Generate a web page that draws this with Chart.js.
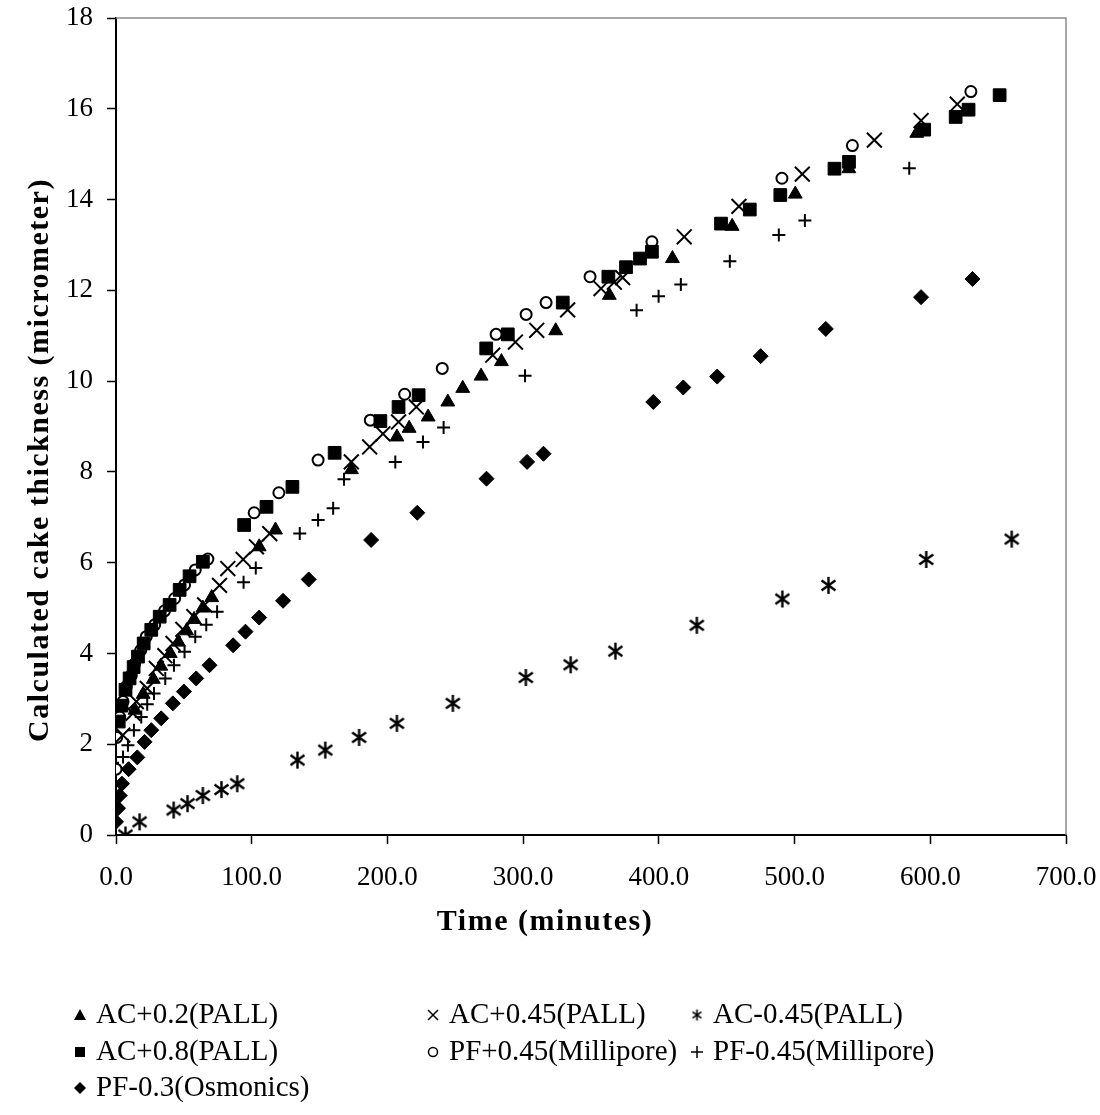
<!DOCTYPE html>
<html>
<head>
<meta charset="UTF-8">
<title>Calculated cake thickness</title>
<script src="https://cdn.jsdelivr.net/npm/chart.js"></script>
<style>
    body { margin: 0; background: #fff; }
    #wrap { position: relative; width: 1100px; height: 1115px; }
</style>
</head>
<body>
<div id="wrap"><canvas id="chart"></canvas></div>
<script>
    // data: time (minutes) and cake thickness (micrometer)
    const labels = ['AC+0.2(PALL)', 'AC+0.45(PALL)', 'AC-0.45(PALL)', 'AC+0.8(PALL)',
                    'PF+0.45(Millipore)', 'PF-0.45(Millipore)', 'PF-0.3(Osmonics)'];
    const xTitle = 'Time (minutes)';
    const yTitle = 'Calculated cake thickness (micrometer)';

    const ac02_t = [14, 20, 27.5, 33, 40, 46, 52, 57.5, 64, 70.5, 105.5, 117.5, 173.5, 207, 216, 230, 244.5, 255.5, 269, 284, 324, 363.5, 410, 454, 500.5, 540, 590];
    const ac02_y = [2.75, 3.1, 3.43, 3.72, 4.0, 4.25, 4.5, 4.75, 5.0, 5.23, 6.35, 6.72, 8.05, 8.77, 8.96, 9.21, 9.54, 9.84, 10.11, 10.43, 11.11, 11.89, 12.7, 13.41, 14.12, 14.68, 15.46];

    const ac045_t = [5, 12.5, 15, 23, 29.7, 36, 42, 49.3, 57.4, 65.3, 76.3, 82.4, 93.7, 103.5, 113.3, 173.4, 186.9, 196.7, 208.2, 221.3, 277.6, 294.3, 310, 332.8, 357.4, 367.2, 373.3, 418.7, 459, 505.7, 558.8, 593.2, 619.9];
    const ac045_y = [2.2, 2.68, 2.94, 3.23, 3.67, 3.95, 4.22, 4.53, 4.81, 5.07, 5.5, 5.87, 6.07, 6.35, 6.64, 8.22, 8.55, 8.84, 9.10, 9.43, 10.57, 10.86, 11.12, 11.57, 12.04, 12.18, 12.28, 13.18, 13.85, 14.56, 15.31, 15.74, 16.10];

    const acm045_t = [7, 17.4, 42.5, 52.7, 64, 77.7, 89.3, 133.7, 154.2, 179.1, 207, 248.2, 302, 335, 368, 428, 491, 525, 597, 660];
    const acm045_y = [0.0, 0.29, 0.55, 0.69, 0.87, 1.0, 1.13, 1.65, 1.87, 2.15, 2.46, 2.90, 3.47, 3.75, 4.05, 4.62, 5.2, 5.5, 6.07, 6.52];

    const ac08_t = [2, 4, 7, 10, 13, 16.2, 20.4, 26, 32.2, 39.5, 46.9, 54.2, 64, 94.4, 110.9, 130, 161.1, 194.8, 208.2, 223, 272.8, 288.7, 329.2, 362.8, 375.8, 386.1, 394.9, 445.8, 467, 489.5, 529.4, 540.1, 595.5, 618.7, 628.2, 651.1];
    const ac08_y = [2.5, 2.85, 3.2, 3.45, 3.7, 3.93, 4.22, 4.52, 4.81, 5.07, 5.40, 5.70, 6.02, 6.83, 7.23, 7.67, 8.42, 9.12, 9.43, 9.69, 10.72, 11.03, 11.73, 12.30, 12.51, 12.70, 12.85, 13.47, 13.78, 14.10, 14.68, 14.83, 15.54, 15.82, 15.98, 16.30];

    const pf045_t = [0, 0.5, 2.7, 5.2, 7.6, 11.3, 13.7, 18.2, 22.3, 28.5, 35.8, 43.2, 50.5, 58.4, 67.7, 101.8, 120, 148.9, 187.4, 212.7, 240.4, 280.1, 302.2, 316.9, 349.3, 394.9, 490.7, 542.6, 629.9];
    const pf045_y = [1.45, 2.15, 2.6, 2.94, 3.27, 3.52, 3.77, 4.07, 4.37, 4.63, 4.94, 5.21, 5.51, 5.84, 6.08, 7.10, 7.54, 8.26, 9.14, 9.71, 10.28, 11.03, 11.47, 11.73, 12.30, 13.07, 14.47, 15.19, 16.38];

    const pfm045_t = [1.5, 5.2, 8.8, 13.2, 18.6, 23, 28, 36.3, 42.7, 50.5, 58.4, 66.5, 74.5, 94, 103, 135.4, 148.9, 160, 168, 205.8, 226.2, 241.4, 301.4, 383.6, 399.8, 416.2, 452.3, 488.4, 507.6, 584.5];
    const pfm045_y = [1.47, 1.72, 1.98, 2.31, 2.60, 2.88, 3.12, 3.45, 3.74, 4.04, 4.37, 4.63, 4.92, 5.57, 5.88, 6.64, 6.94, 7.2, 7.84, 8.22, 8.66, 8.98, 10.12, 11.56, 11.87, 12.13, 12.64, 13.22, 13.54, 14.69];

    const pf03_t = [0, 1.5, 2.7, 4.4, 9.3, 15.7, 21.1, 26, 33.3, 41.9, 50, 59.1, 68.9, 86.3, 95.4, 105.5, 123.1, 142, 188, 222, 273, 302.9, 315, 395.9, 418, 443, 475, 523, 593.2, 631.1];
    const pf03_y = [0.29, 0.59, 0.87, 1.13, 1.45, 1.71, 2.05, 2.31, 2.57, 2.90, 3.16, 3.45, 3.74, 4.18, 4.48, 4.79, 5.16, 5.63, 6.5, 7.1, 7.85, 8.22, 8.40, 9.54, 9.86, 10.1, 10.55, 11.15, 11.85, 12.25];

    const xTicks = [0, 100, 200, 300, 400, 500, 600, 700];
    const yTicks = [0, 2, 4, 6, 8, 10, 12, 14, 16, 18];

    const serif = "'Liberation Serif', 'Times New Roman', serif";

    function pts(t, y) {
        return t.map((v, i) => ({ x: v, y: y[i] }));
    }

    // six-armed asterisk marker
    function asterisk(size, lw) {
        const c = document.createElement('canvas');
        c.width = size; c.height = size;
        const g = c.getContext('2d');
        const m = size / 2, r = size / 2 - 1;
        g.strokeStyle = '#000';
        g.lineWidth = lw;
        g.beginPath();
        g.moveTo(m, m - r); g.lineTo(m, m + r);
        g.moveTo(m - r * 0.82, m - r * 0.58); g.lineTo(m + r * 0.82, m + r * 0.58);
        g.moveTo(m - r * 0.82, m + r * 0.58); g.lineTo(m + r * 0.82, m - r * 0.58);
        g.stroke();
        return c;
    }
    const starBig = asterisk(19, 2.4);
    const starSmall = asterisk(13, 1.6);

    function ds(i, t, y, style, radius, fill, bw) {
        return {
            label: labels[i],
            data: pts(t, y),
            showLine: false,
            pointStyle: style,
            pointRadius: radius,
            pointHoverRadius: radius,
            pointBackgroundColor: fill,
            pointBorderColor: '#000',
            pointBorderWidth: bw
        };
    }

    // the plot box: gray top and right edges
    const boxPlugin = {
        id: 'box',
        beforeDatasetsDraw(chart) {
            const { ctx, chartArea: a } = chart;
            ctx.save();
            ctx.strokeStyle = '#8c8c8c';
            ctx.lineWidth = 1.5;
            ctx.beginPath();
            ctx.moveTo(a.left, a.top);
            ctx.lineTo(a.right, a.top);
            ctx.lineTo(a.right, a.bottom);
            ctx.stroke();
            ctx.restore();
        }
    };

    // axis titles, placed like the original (a little off the plot centre)
    const titlePlugin = {
        id: 'titles',
        afterDraw(chart) {
            const ctx = chart.ctx;
            ctx.save();
            ctx.fillStyle = '#000';
            ctx.font = 'bold 30px ' + serif;
            ctx.letterSpacing = '1.5px';
            ctx.textAlign = 'center';
            ctx.textBaseline = 'middle';
            ctx.fillText(xTitle, 545, 922);
            ctx.translate(40, 460);
            ctx.rotate(-Math.PI / 2);
            ctx.fillText(yTitle, 0, 0);
            ctx.restore();
        }
    };

    function marker(ctx, style, x, y) {
        ctx.fillStyle = '#000';
        ctx.strokeStyle = '#000';
        ctx.lineWidth = 1.5;
        ctx.beginPath();
        if (style === 'tri') {
            ctx.moveTo(x, y - 6); ctx.lineTo(x + 6, y + 5); ctx.lineTo(x - 6, y + 5); ctx.closePath(); ctx.fill();
        } else if (style === 'sq') {
            ctx.rect(x - 5, y - 5, 10, 10); ctx.fill();
        } else if (style === 'dia') {
            ctx.moveTo(x, y - 6); ctx.lineTo(x + 6, y); ctx.lineTo(x, y + 6); ctx.lineTo(x - 6, y); ctx.closePath(); ctx.fill();
        } else if (style === 'x') {
            ctx.moveTo(x - 5, y - 5); ctx.lineTo(x + 5, y + 5); ctx.moveTo(x - 5, y + 5); ctx.lineTo(x + 5, y - 5); ctx.stroke();
        } else if (style === 'plus') {
            ctx.moveTo(x - 6, y); ctx.lineTo(x + 6, y); ctx.moveTo(x, y - 6); ctx.lineTo(x, y + 6); ctx.stroke();
        } else if (style === 'circ') {
            ctx.arc(x, y, 4.5, 0, Math.PI * 2); ctx.fillStyle = '#fff'; ctx.fill(); ctx.stroke();
        } else if (style === 'star') {
            ctx.drawImage(starSmall, x - 6.5, y - 6.5);
        }
    }

    const legendItems = [
        { i: 0, s: 'tri',  x: 80,  y: 1015 },
        { i: 1, s: 'x',    x: 433, y: 1015 },
        { i: 2, s: 'star', x: 697, y: 1015 },
        { i: 3, s: 'sq',   x: 80,  y: 1052 },
        { i: 4, s: 'circ', x: 433, y: 1052 },
        { i: 5, s: 'plus', x: 697, y: 1052 },
        { i: 6, s: 'dia',  x: 80,  y: 1088 }
    ];

    const legendPlugin = {
        id: 'sideLegend',
        afterDraw(chart) {
            const ctx = chart.ctx;
            ctx.save();
            ctx.font = '29px ' + serif;
            ctx.textBaseline = 'middle';
            ctx.textAlign = 'left';
            legendItems.forEach(it => {
                marker(ctx, it.s, it.x, it.y);
                ctx.fillStyle = '#000';
                ctx.fillText(labels[it.i], it.x + 16, it.y);
            });
            ctx.restore();
        }
    };

    function noPad(s) {
        s.paddingLeft = 0; s.paddingRight = 0; s.paddingTop = 0; s.paddingBottom = 0;
    }

    const ctx = document.getElementById('chart').getContext('2d');
    const chart = new Chart(ctx, {
        type: 'scatter',
        data: {
            datasets: [
                ds(0, ac02_t, ac02_y, 'triangle', 8, '#000', 1),
                ds(1, ac045_t, ac045_y, 'crossRot', 10.5, '#000', 2),
                ds(2, acm045_t, acm045_y, starBig, 9, '#000', 1),
                ds(3, ac08_t, ac08_y, 'rect', 9, '#000', 1),
                ds(4, pf045_t, pf045_y, 'circle', 5.5, '#fff', 2),
                ds(5, pfm045_t, pfm045_y, 'cross', 6.5, '#000', 2),
                ds(6, pf03_t, pf03_y, 'rectRot', 7.5, '#000', 1)
            ]
        },
        options: {
            responsive: true,
            maintainAspectRatio: false,
            animation: false,
            layout: { padding: { top: 18, right: 34, bottom: 170, left: 0 } },
            plugins: {
                legend: { display: false },
                tooltip: { enabled: false }
            },
            scales: {
                x: {
                    type: 'linear',
                    min: 0,
                    max: 700,
                    afterBuildTicks: s => { s.ticks = xTicks.map(v => ({ value: v })); },
                    afterFit: s => { s.height = 110; noPad(s); },
                    ticks: {
                        color: '#000',
                        padding: 18,
                        font: { family: serif, size: 27 },
                        callback: v => v.toFixed(1)
                    },
                    grid: { drawOnChartArea: false, drawTicks: true, tickLength: 9, tickColor: '#000', tickWidth: 1.5 },
                    border: { color: '#000', width: 2 },
                    title: { display: false }
                },
                y: {
                    min: 0,
                    max: 18,
                    afterBuildTicks: s => { s.ticks = yTicks.map(v => ({ value: v })); },
                    afterFit: s => { s.width = 116; noPad(s); },
                    ticks: {
                        color: '#000',
                        padding: 14,
                        font: { family: serif, size: 27 }
                    },
                    grid: { drawOnChartArea: false, drawTicks: true, tickLength: 9, tickColor: '#000', tickWidth: 1.5 },
                    border: { color: '#000', width: 2 },
                    title: { display: false }
                }
            }
        },
        plugins: [boxPlugin, titlePlugin, legendPlugin]
    });
</script>
</body>
</html>
